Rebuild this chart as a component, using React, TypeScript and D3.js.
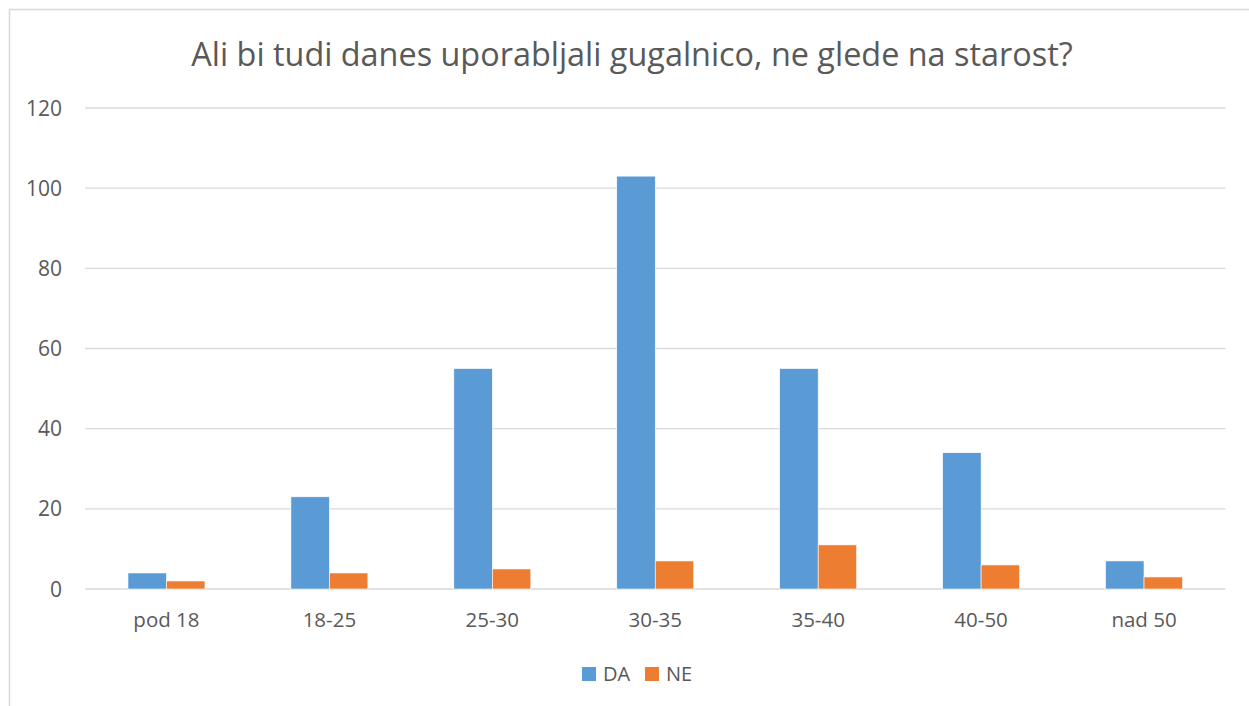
import React, { useEffect, useRef } from 'react'
import * as d3 from 'd3'

const categories = ['pod 18', '18-25', '25-30', '30-35', '35-40', '40-50', 'nad 50']
const seriesNames = ['DA', 'NE']
const daValues = [4, 23, 55, 103, 55, 34, 7]
const neValues = [2, 4, 5, 7, 11, 6, 3]
const yTicks = [0, 20, 40, 60, 80, 100, 120]
const colors = ['#5b9bd5', '#ed7d31']
const title = 'Ali bi tudi danes uporabljali gugalnico, ne glede na starost?'

export default function App() {
    const ref = useRef<SVGSVGElement>(null)

    useEffect(() => {
        const svg = d3.select(ref.current)
        svg.selectAll('*').remove()

        const width = 1249
        const height = 706
        const font = '"Open Sans", sans-serif'
        const textColor = '#595959'
        const plot = { left: 85, right: 1225.5, top: 108, bottom: 589 }

        // chart border
        svg.append('rect')
            .attr('x', 9.5).attr('y', 9.5)
            .attr('width', width + 20).attr('height', height + 20)
            .attr('fill', 'white')
            .attr('stroke', '#d9d9d9')
            .attr('stroke-width', 1.5)

        const x = d3.scaleBand<string>()
            .domain(categories)
            .range([plot.left, plot.right])
            .paddingInner(0)
            .paddingOuter(0)

        const y = d3.scaleLinear()
            .domain([0, 120])
            .range([plot.bottom, plot.top])

        const sub = d3.scaleBand<string>()
            .domain(seriesNames)
            .range([0, x.bandwidth()])
            .paddingInner(0)
            .paddingOuter(1.117)

        // gridlines
        svg.append('g')
            .selectAll('line')
            .data(yTicks)
            .enter()
            .append('line')
            .attr('x1', plot.left)
            .attr('x2', plot.right)
            .attr('y1', d => y(d))
            .attr('y2', d => y(d))
            .attr('stroke', '#d9d9d9')
            .attr('stroke-width', 1.3)

        // y labels
        svg.append('g')
            .selectAll('text')
            .data(yTicks)
            .enter()
            .append('text')
            .attr('x', 62)
            .attr('y', d => y(d) + 7.5)
            .attr('text-anchor', 'end')
            .attr('font-family', font)
            .attr('font-size', 21)
            .attr('fill', textColor)
            .text(d => d)

        const series = [daValues, neValues]
        series.forEach((vals, si) => {
            svg.append('g')
                .selectAll('rect')
                .data(vals)
                .enter()
                .append('rect')
                .attr('x', (d, i) => (x(categories[i]) ?? 0) + (sub(seriesNames[si]) ?? 0))
                .attr('y', d => y(d))
                .attr('width', sub.bandwidth())
                .attr('height', d => y(0) - y(d))
                .attr('fill', colors[si])
                .attr('stroke', 'white')
                .attr('stroke-width', 0.6)
        })

        // x labels
        svg.append('g')
            .selectAll('text')
            .data(categories)
            .enter()
            .append('text')
            .attr('x', d => (x(d) ?? 0) + x.bandwidth() / 2)
            .attr('y', 627)
            .attr('text-anchor', 'middle')
            .attr('font-family', font)
            .attr('font-size', 20.5)
            .attr('fill', textColor)
            .text(d => d)

        // title
        svg.append('text')
            .attr('x', 632)
            .attr('y', 66)
            .attr('text-anchor', 'middle')
            .attr('font-family', font)
            .attr('font-size', 32.4)
            .attr('fill', textColor)
            .text(title)

        // legend
        const legendX = [582, 645]
        seriesNames.forEach((name, i) => {
            svg.append('rect')
                .attr('x', legendX[i]).attr('y', 667)
                .attr('width', 14).attr('height', 14)
                .attr('fill', colors[i])
            svg.append('text')
                .attr('x', legendX[i] + 21)
                .attr('y', 681)
                .attr('font-family', font)
                .attr('font-size', 20)
                .attr('fill', textColor)
                .text(name)
        })
    }, [])

    return (
        <svg ref={ref} width={1249} height={706} style={{ position: 'absolute', left: 0, top: 0 }} />
    )
}
